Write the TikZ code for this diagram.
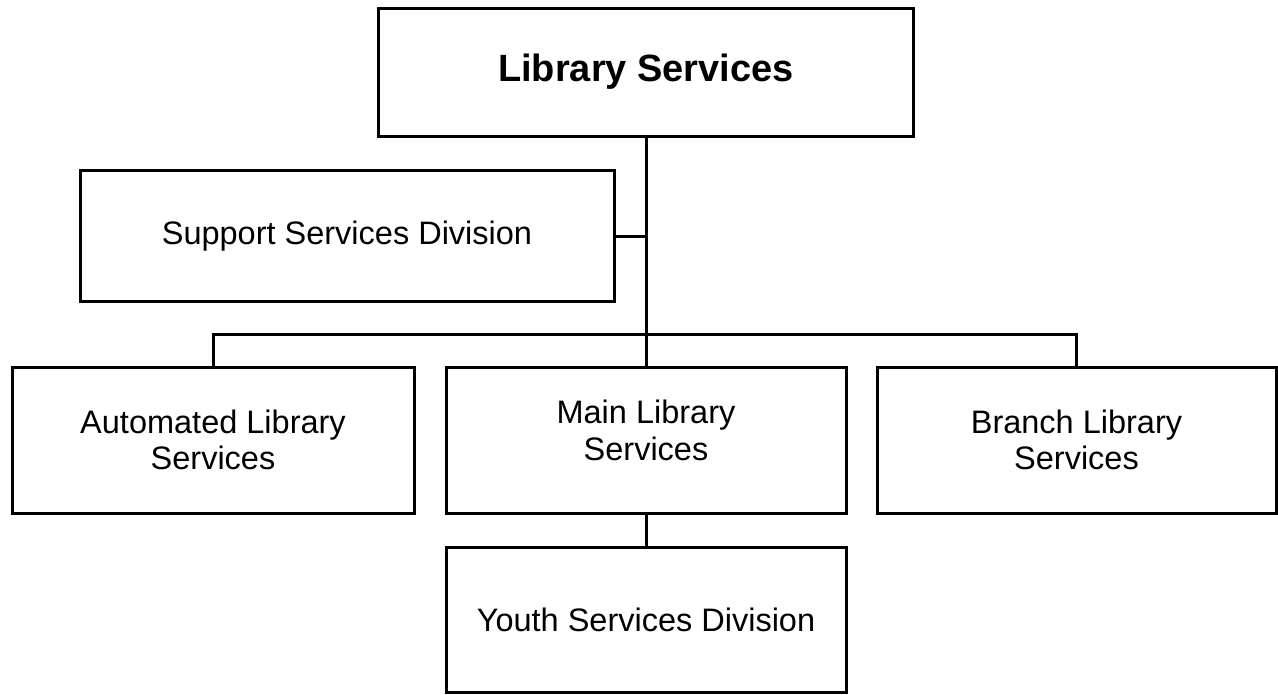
\documentclass[tikz,border=0pt]{standalone}
\usepackage{fontspec}
\setmainfont{Liberation Sans}
\begin{document}
\begin{tikzpicture}[x=1pt,y=-1pt,
  box/.style={draw=black, line width=3pt, rectangle, inner sep=0pt, outer sep=0pt, align=center,
    font=\fontsize{32.5}{36.5}\selectfont},
  link/.style={draw=black, line width=3pt}]
\useasboundingbox (0,0) rectangle (1278,694);
\node[box, minimum width=535pt, minimum height=128pt, font=\fontsize{38}{42}\selectfont\bfseries] (top) at (646,72) {Library Services};
\node[box, minimum width=534pt, minimum height=131pt] (support) at (347,236) {Support Services Division};
\node[box, minimum width=402pt, minimum height=146pt] (auto) at (213,440) {Automated Library\\Services};
\node[box, minimum width=400pt, minimum height=146pt, text depth=20pt] (main) at (646,440) {Main Library\\Services};
\node[box, minimum width=399pt, minimum height=146pt] (branch) at (1076.5,440) {Branch Library\\Services};
\node[box, minimum width=400pt, minimum height=145pt] (youth) at (646,619.5) {Youth Services Division};
\coordinate (bus) at (646,334);
\draw[link] (top.south) -- (main.north);
\draw[link] (support.east) -- (top.south |- support.east);
\draw[link] (auto.north) |- (bus) -| (branch.north);
\draw[link] (main.south) -- (youth.north);
\end{tikzpicture}
\end{document}
